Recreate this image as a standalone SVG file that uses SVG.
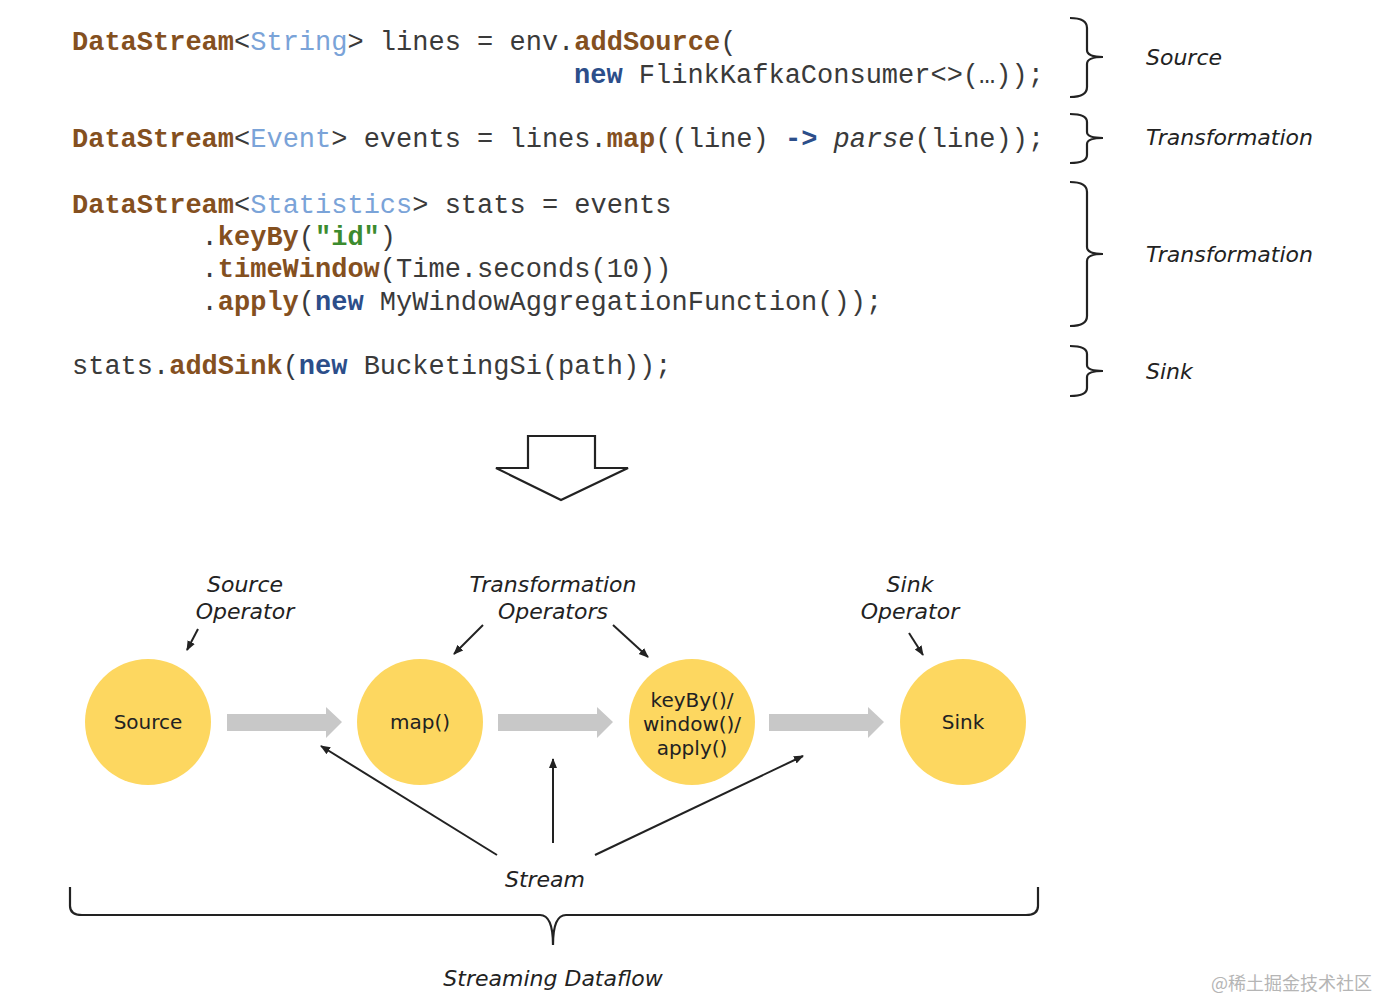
<svg xmlns="http://www.w3.org/2000/svg" width="1378" height="1000" viewBox="0 0 1378 1000">
<defs>
<style>
.code{font-family:"Courier New","Nimbus Mono PS","FreeMono","Liberation Mono",monospace;font-size:27px;fill:#3a3a3a;}
.kw{fill:#84501f;font-weight:bold;}
.ty{fill:#7aa3d8;}
.nw{fill:#2c4e8a;font-weight:bold;}
.st{fill:#3c8b2e;font-weight:bold;}
.it{font-style:italic;}
.lbl{font-family:"DejaVu Sans",Verdana,sans-serif;font-size:22px;font-style:italic;fill:#222;}
.node{fill:#FDD760;}
.ntext{font-family:"DejaVu Sans",Verdana,sans-serif;font-size:20px;fill:#222;text-anchor:middle;}
.brace{fill:none;stroke:#222;stroke-width:2.2;}
.thin{fill:none;stroke:#222;stroke-width:2;}
.flow{fill:#C8C8C8;}
</style>
<marker id="ah" markerWidth="10" markerHeight="10" refX="9" refY="5" orient="auto" markerUnits="userSpaceOnUse">
<path d="M0,1 L10,5 L0,9 Z" fill="#222"/>
</marker>
</defs>
<rect width="1378" height="1000" fill="#fff"/>

<g id="code">
<text class="code" x="72" y="50" xml:space="preserve"><tspan class="kw">DataStream</tspan>&lt;<tspan class="ty">String</tspan>&gt; lines = env.<tspan class="kw">addSource</tspan>(</text>
<text class="code" x="574" y="83" xml:space="preserve"><tspan class="nw">new</tspan> FlinkKafkaConsumer&lt;&gt;(…));</text>
<text class="code" x="72" y="147" xml:space="preserve"><tspan class="kw">DataStream</tspan>&lt;<tspan class="ty">Event</tspan>&gt; events = lines.<tspan class="kw">map</tspan>((line) <tspan class="nw">-&gt;</tspan> <tspan class="it">parse</tspan>(line));</text>
<text class="code" x="72" y="213" xml:space="preserve"><tspan class="kw">DataStream</tspan>&lt;<tspan class="ty">Statistics</tspan>&gt; stats = events</text>
<text class="code" x="201.6" y="245" xml:space="preserve">.<tspan class="kw">keyBy</tspan>(<tspan class="st">"id"</tspan>)</text>
<text class="code" x="201.6" y="277" xml:space="preserve">.<tspan class="kw">timeWindow</tspan>(Time.seconds(10))</text>
<text class="code" x="201.6" y="310" xml:space="preserve">.<tspan class="kw">apply</tspan>(<tspan class="nw">new</tspan> MyWindowAggregationFunction());</text>
<text class="code" x="72" y="374" xml:space="preserve">stats.<tspan class="kw">addSink</tspan>(<tspan class="nw">new</tspan> BucketingSi(path));</text>
</g>

<g id="code-braces">
<path class="brace" d="M1070,18 Q1087,18 1087,28 L1087,50 Q1087,57 1103,57 Q1087,57 1087,64 L1087,87 Q1087,97 1070,97"/>
<path class="brace" d="M1070,114 Q1087,114 1087,122 L1087,132 Q1087,138 1103,138 Q1087,138 1087,144 L1087,155 Q1087,163 1070,163"/>
<path class="brace" d="M1070,182 Q1087,182 1087,192 L1087,247 Q1087,254 1103,254 Q1087,254 1087,261 L1087,316 Q1087,326 1070,326"/>
<path class="brace" d="M1070,346 Q1087,346 1087,354 L1087,365 Q1087,371 1103,371 Q1087,371 1087,377 L1087,388 Q1087,396 1070,396"/>
<text class="lbl" x="1146" y="65">Source</text>
<text class="lbl" x="1146" y="145">Transformation</text>
<text class="lbl" x="1146" y="262">Transformation</text>
<text class="lbl" x="1146" y="379">Sink</text>
</g>

<g id="down-arrow">
<path d="M528,436 L595,436 L595,468 L628,468 L561,500 L496,468 L528,468 Z" fill="#fff" stroke="#222" stroke-width="2.2" stroke-linejoin="miter"/>
</g>

<g id="node-source">
<circle class="node" cx="148" cy="722" r="63"/>
<text class="ntext" x="148" y="729">Source</text>
</g>
<g id="node-map">
<circle class="node" cx="420" cy="722" r="63"/>
<text class="ntext" x="420" y="729">map()</text>
</g>
<g id="node-window">
<circle class="node" cx="692" cy="722" r="63"/>
<text class="ntext" x="692" y="707">keyBy()/</text>
<text class="ntext" x="692" y="731">window()/</text>
<text class="ntext" x="692" y="755">apply()</text>
</g>
<g id="node-sink">
<circle class="node" cx="963" cy="722" r="63"/>
<text class="ntext" x="963" y="729">Sink</text>
</g>

<g id="connectors">
<path class="flow" d="M227,714 L326,714 L326,707 L342,722 L326,738 L326,731 L227,731 Z"/>
<path class="flow" d="M498,714 L597,714 L597,707 L613,722 L597,738 L597,731 L498,731 Z"/>
<path class="flow" d="M769,714 L868,714 L868,707 L884,722 L868,738 L868,731 L769,731 Z"/>
<line class="thin" x1="198" y1="629" x2="187" y2="650" marker-end="url(#ah)"/>
<line class="thin" x1="483" y1="625" x2="454" y2="654" marker-end="url(#ah)"/>
<line class="thin" x1="613" y1="625" x2="648" y2="657" marker-end="url(#ah)"/>
<line class="thin" x1="909" y1="633" x2="923" y2="655" marker-end="url(#ah)"/>
<line class="thin" x1="497" y1="855" x2="321" y2="746" marker-end="url(#ah)"/>
<line class="thin" x1="553" y1="843" x2="553" y2="759" marker-end="url(#ah)"/>
<line class="thin" x1="595" y1="855" x2="803" y2="756" marker-end="url(#ah)"/>
</g>

<g id="labels">
<text class="lbl" x="245" y="592" text-anchor="middle">Source</text>
<text class="lbl" x="245" y="619" text-anchor="middle">Operator</text>
<text class="lbl" x="553" y="592" text-anchor="middle">Transformation</text>
<text class="lbl" x="553" y="619" text-anchor="middle">Operators</text>
<text class="lbl" x="910" y="592" text-anchor="middle">Sink</text>
<text class="lbl" x="910" y="619" text-anchor="middle">Operator</text>
<text class="lbl" x="545" y="887" text-anchor="middle">Stream</text>
</g>

<g id="dataflow-brace">
<path class="brace" d="M70,887 L70,906 Q70,915 82,915 L540,915 Q553,915 553,945 Q553,915 566,915 L1026,915 Q1038,915 1038,906 L1038,887"/>
<text class="lbl" x="553" y="986" text-anchor="middle">Streaming Dataflow</text>
</g>

<text x="1372" y="990" text-anchor="end" font-family="'Noto Sans CJK SC',sans-serif" font-size="18" fill="#b5b5b5">@稀土掘金技术社区</text>
</svg>
